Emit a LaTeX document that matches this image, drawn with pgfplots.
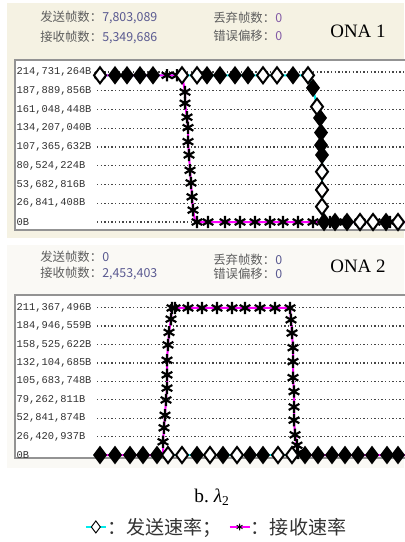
\documentclass[border=0pt]{standalone}
\usepackage{fontspec}
\setmainfont{Liberation Serif}
\newfontfamily\cjk{Noto Sans CJK SC}
\newfontfamily\mono{Liberation Mono}
\usepackage{pgfplots}
\pgfplotsset{compat=1.18}
\definecolor{topbg}{RGB}{245,242,227}
\definecolor{botbg}{RGB}{250,249,245}
\definecolor{lab}{RGB}{95,95,95}
\definecolor{num}{RGB}{90,90,145}
\definecolor{zero}{RGB}{130,90,165}
\definecolor{cyanline}{RGB}{0,235,235}
\definecolor{magline}{RGB}{255,0,255}
\definecolor{ticktext}{RGB}{50,50,50}
\definecolor{gridc}{RGB}{70,70,70}
\tikzset{griddot/.style={gridc, line width=1pt, dash pattern=on 1.1pt off 1.6pt}}
\pgfplotsset{
 panel/.style={scale only axis, width=296.25pt, xmin=15, xmax=410, xtick=\empty,
   axis background/.style={fill=white}, axis line style={draw=gray!85, line width=1.1pt},
   ytick style={draw=none}, major tick length=0pt,
   yticklabel style={anchor=west, inner sep=1pt, font=\mono\fontsize{7.8}{9}\selectfont, text=ticktext},
   clip=false},
 sendline/.style={forget plot, no marks, color=cyanline, line width=1.5pt},
 recvline/.style={forget plot, no marks, color=magline, line width=1.5pt},
 stars/.style={forget plot, only marks, color=black, mark=asterisk, mark size=4.6pt, mark options={draw=black, line width=1.6pt}},
 dfill/.style={forget plot, only marks, color=black, mark=diamond*, mark size=6pt, mark options={draw=black, fill=black, line width=1.2pt}},
 dopen/.style={forget plot, only marks, color=black, mark=diamond*, mark size=6pt, mark options={draw=black, fill=white, line width=1.5pt}},
}
\begin{document}
\begin{tikzpicture}
\useasboundingbox (0pt,0pt) rectangle (303pt,-406.5pt);
\fill[topbg] (5.25pt,-2.25pt) rectangle (303pt,-178.5pt);
\fill[botbg] (5.25pt,-183.75pt) rectangle (303pt,-351pt);
\begin{scope}[every node/.style={anchor=west, inner sep=0pt, font=\cjk\fontsize{9.3}{11}\selectfont}]
\node at (30pt,-12.75pt) {\textcolor{lab}{发送帧数：}\textcolor{num}{7,803,089}};
\node at (30pt,-27.75pt) {\textcolor{lab}{接收帧数：}\textcolor{num}{5,349,686}};
\node at (159.75pt,-13.5pt) {\textcolor{lab}{丢弃帧数：}\textcolor{zero}{0}};
\node at (159.75pt,-27pt) {\textcolor{lab}{错误偏移：}\textcolor{zero}{0}};
\node at (30pt,-192.75pt) {\textcolor{lab}{发送帧数：}\textcolor{num}{0}};
\node at (30pt,-204.75pt) {\textcolor{lab}{接收帧数：}\textcolor{num}{2,453,403}};
\node at (159.75pt,-195pt) {\textcolor{lab}{丢弃帧数：}\textcolor{num}{0}};
\node at (159.75pt,-205.5pt) {\textcolor{lab}{错误偏移：}\textcolor{num}{0}};
\end{scope}
\node[font=\fontsize{14.2}{16}\selectfont] at (268.5pt,-23.6pt) {ONA 1};
\node[font=\fontsize{14.2}{16}\selectfont] at (268.5pt,-199.5pt) {ONA 2};
\node[font=\fontsize{14.5}{16}\selectfont] at (159pt,-372.75pt) {b.\ \textit{λ}\textsubscript{2}};

\begin{axis}[panel, at={(11.25pt,-172.5pt)}, anchor=south west, height=127.5pt,
  ymin=-11.45, ymax=231.9,
  ytick={0,26.841408,53.682816,80.524224,107.365632,134.20704,161.048448,187.889856,214.731264},
  yticklabels={{0B},{26,841,408B},{53,682,816B},{80,524,224B},{107,365,632B},{134,207,040B},{161,048,448B},{187,889,856B},{214,731,264B}}]
\pgfplotsinvokeforeach{0,26.841408,53.682816,80.524224,107.365632,134.20704,161.048448,187.889856,214.731264}{\draw[griddot] (axis cs:97,#1) -- (axis cs:410,#1);}
\addplot[sendline] coordinates {(97,210)(308,210)(313,192)(317,165)(320,149)(321,128)(321,110)(322,96)(322,72)(322,46)(322,22)(324,0)(410,0)};
\addplot[recvline] coordinates {(97,210)(182,210)(185,186)(185,170)(187,150)(188,135)(188,115)(189,96)(190,74)(191,56)(192,36)(193,17)(195,3)(197,0)(410,0)};
\addplot[stars] coordinates {(100,210)(167,210)(177,210)(185,186)(185,170)(187,150)(188,135)(188,115)(189,96)(190,74)(191,56)(192,36)(193,17)(197,0)(208,0)(225,0)(240,0)(255,0)(270,0)(283,0)(298,0)(313,0)(330,0)(345,0)(360,0)(375,0)(390,0)};
\addplot[dfill] coordinates {(115,210)(127,210)(140,210)(153,210)(207,210)(220,210)(235,210)(248,210)(293,210)(313,192)(320,149)(321,128)(321,110)(322,96)(324,0)(335,0)(347,0)(386,0)};
\addplot[dopen] coordinates {(100,210)(182,210)(197,210)(263,210)(277,210)(308,210)(317,165)(322,72)(322,46)(322,22)(360,0)(373,0)(398,0)};
\end{axis}

\begin{axis}[panel, at={(11.25pt,-343.5pt)}, anchor=south west, height=122.25pt,
  ymin=-4.3, ymax=229.6,
  ytick={0,26.420937,52.841874,79.262811,105.683748,132.104685,158.525622,184.946559,211.367496},
  yticklabels={{0B},{26,420,937B},{52,841,874B},{79,262,811B},{105,683,748B},{132,104,685B},{158,525,622B},{184,946,559B},{211,367,496B}},
  legend columns=2,
  legend image code/.code={\draw[mark repeat=2, mark phase=2, #1] plot coordinates {(0pt,0pt)(7.5pt,0pt)(15pt,0pt)};},
  legend style={at={(0.509,-0.423)}, anchor=center, draw=none, fill=none,
    font=\cjk\fontsize{14.3}{16}\selectfont, text=black!80, nodes={inner sep=0.5pt},
    /tikz/every even column/.append style={column sep=5pt}}]
\pgfplotsinvokeforeach{0,26.420937,52.841874,79.262811,105.683748,132.104685,158.525622,184.946559,211.367496}{\draw[griddot] (axis cs:97,#1) -- (axis cs:410,#1);}
\addplot[sendline] coordinates {(97,0)(410,0)};
\addplot[recvline] coordinates {(97,0)(163,0)(163,19)(164,39)(165,57)(166,79)(167,96)(167,115)(167,136)(168,158)(169,176)(171,195)(172,211)(290,211)(291,194)(292,175)(293,154)(293,134)(293,111)(294,91)(294,69)(294,50)(295,29)(297,14)(298,3)(300,0)(410,0)};
\addplot[stars] coordinates {(163,19)(164,39)(165,57)(166,79)(167,96)(167,115)(167,136)(168,158)(169,176)(171,195)(172,211)(175,211)(188,211)(202,211)(217,211)(232,211)(245,211)(260,211)(275,211)(290,211)(291,194)(292,175)(293,154)(293,134)(293,111)(294,91)(294,69)(294,50)(295,29)(297,14)(298,3)};
\addplot[dfill] coordinates {(100,0)(115,0)(130,0)(143,0)(157,0)(197,0)(223,0)(250,0)(263,0)(305,0)(318,0)(332,0)(345,0)(358,0)(372,0)(387,0)(398,0)};
\addplot[dopen] coordinates {(168,0)(182,0)(210,0)(237,0)(278,0)(292,0)};
\addlegendimage{color=cyanline, line width=1pt, mark=diamond*, mark size=4.5pt, mark options={draw=black, fill=white, line width=0.7pt}}
\addlegendentry{：发送速率；}
\addlegendimage{color=magline, line width=1pt, mark=asterisk, mark size=2.5pt, mark options={draw=black, line width=0.7pt}}
\addlegendentry{：接收速率}
\end{axis}
\end{tikzpicture}
\end{document}
